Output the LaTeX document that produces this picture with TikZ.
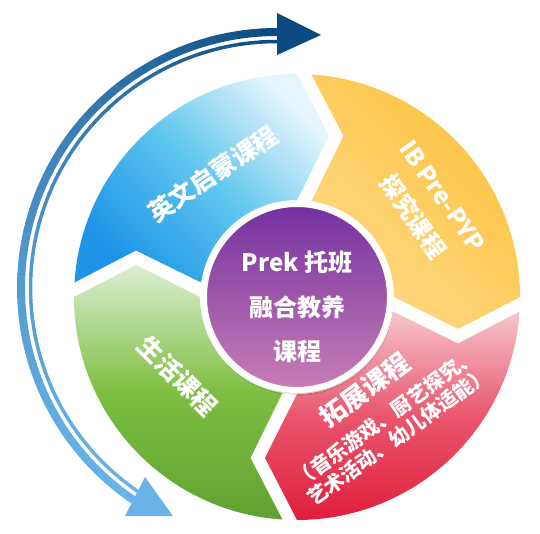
\documentclass[tikz,border=0pt]{standalone}
\usepackage{fontspec}
\setmainfont{Noto Sans CJK SC}
\usetikzlibrary{shadows.blur}

\definecolor{blueL}{HTML}{E4F5FC}
\definecolor{blueM}{HTML}{5CC4EE}
\definecolor{blueD}{HTML}{1E94E6}
\definecolor{yellowD}{HTML}{FCC23C}
\definecolor{yellowL}{HTML}{FED988}
\definecolor{redL}{HTML}{F6C6CD}
\definecolor{redM}{HTML}{E9566D}
\definecolor{redD}{HTML}{E01E3B}
\definecolor{greenL}{HTML}{DDEED2}
\definecolor{greenM}{HTML}{7CBF42}
\definecolor{greenD}{HTML}{5FA232}
\definecolor{hubtop}{HTML}{7430A0}
\definecolor{hubbot}{HTML}{C87EB6}
\definecolor{arrowdark}{HTML}{0B4A80}
\definecolor{arrowlight}{HTML}{6AB3E6}

\begin{document}
\begin{tikzpicture}[
    x=1pt,
    y=1pt,
    line join=round,
    blueseg/.style={top color=blueL, bottom color=blueD, middle color=blueM, shading angle=-45},
    yellowseg/.style={top color=yellowD, bottom color=yellowL, shading angle=-45},
    redseg/.style={top color=redL, bottom color=redD, middle color=redM},
    greenseg/.style={top color=greenL, bottom color=greenD, middle color=greenM},
    seglabel/.style={
        text=white,
        inner sep=0pt,
        font=\bfseries\fontsize{25}{30}\selectfont
    },
    hub/.style={
        circle,
        minimum size=186pt,
        draw=white,
        line width=6pt,
        top color=hubtop,
        bottom color=hubbot,
        blur shadow={shadow xshift=1pt, shadow yshift=-3pt, shadow blur steps=8, shadow opacity=35}
    },
    hubtext/.style={
        text=white,
        align=center,
        inner sep=0pt,
        font=\bfseries\fontsize{24}{44.5}\selectfont
    }
]
\useasboundingbox (-297,-236) rectangle (243,297);

% ring of four chevron segments
\foreach \a/\shd in {90/blueseg, 0/yellowseg, -90/redseg, 180/greenseg}
    \shade[\shd] (\a+86.27:223) arc[start angle=\a+86.27, end angle=\a, radius=223]
        -- (\a-11.24:164.1) -- (\a:97)
        arc[start angle=\a, end angle=\a+81.4, radius=97]
        -- (\a+73.89:167.6) -- cycle;

% double arc arrow on the left
\begin{scope}[shift={(-20,9)}]
    \foreach \i [evaluate=\i as \s using 236-\i*4.9,
                 evaluate=\i as \p using int(100*(0.4*\i/29+0.6*\i*\i/841))] in {0,...,29} {
        \draw[line width=8pt, arrowdark!\p!arrowlight] (\s:256) arc[start angle=\s, end angle=\s-5.2, radius=256];
        \draw[line width=3.5pt, arrowdark!\p!arrowlight] (\s:246.5) arc[start angle=\s, end angle=\s-5.2, radius=246.5];
    }
\end{scope}
\fill[arrowdark] (-20,284) -- (24,262) -- (-20,242) -- cycle;
\fill[arrowlight] (-152,-180) -- (-124,-219) -- (-172,-219) -- cycle;

\node[hub] (hub) at (0,0) {};
\node[hubtext, yshift=-10pt] (hubtext) at (hub) {Prek 托班\\融合教养\\课程};

\node[seglabel, rotate=34] (english) at (-84,123) {英文启蒙课程};
\node[seglabel, rotate=-55, align=center, font=\bfseries\fontsize{24}{36}\selectfont] (inquiry) at (130,90) {IB Pre-PYP\\探究课程};
\node[seglabel, rotate=-45] (life) at (-119,-79) {生活课程};
\node[seglabel, rotate=36, font=\bfseries\fontsize{26}{30}\selectfont] (extra) at (68,-93) {拓展课程};
\node[seglabel, rotate=36, align=center, font=\bfseries\fontsize{20}{22.5}\selectfont] (extranote) at (95,-130) {（音乐游戏、厨艺探究、\\艺术活动、幼儿体适能）};

\end{tikzpicture}
\end{document}
